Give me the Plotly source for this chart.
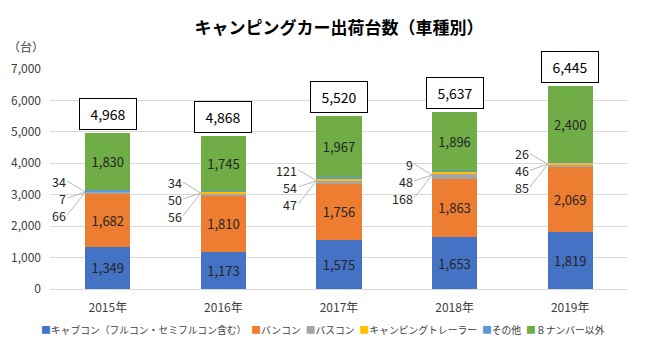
import plotly.graph_objects as go

# ---- data ----
years = ["2015年", "2016年", "2017年", "2018年", "2019年"]
cabcon = [1349, 1173, 1575, 1653, 1819]
vancon = [1682, 1810, 1756, 1863, 2069]
buscon = [66, 56, 121, 168, 85]
trailer = [7, 50, 54, 48, 46]
other = [34, 34, 47, 9, 26]
non8 = [1830, 1745, 1967, 1896, 2400]
series_names = ["キャブコン（フルコン・セミフルコン含む）", "バンコン", "バスコン",
                "キャンピングトレーラー", "その他", "８ナンバー以外"]
# order (top, middle, bottom) of the small-value labels as shown in the picture
small_label_order = [
    ["other", "trailer", "buscon"],
    ["other", "trailer", "buscon"],
    ["buscon", "trailer", "other"],
    ["other", "trailer", "buscon"],
    ["other", "trailer", "buscon"],
]

# ---- style ----
colors = ["#4472C4", "#ED7D31", "#A5A5A5", "#FFC000", "#5B9BD5", "#70AD47"]
FONT = "Noto Sans CJK JP"
W, H = 648, 349
ML, MR, MT, MB = 50, 20, 69, 60
YMAX = 7000
BAR_FRAC = 0.39

series_vals = [cabcon, vancon, buscon, trailer, other, non8]
labelled = [True, True, False, False, False, True]

fig = go.Figure()
for name, vals, col, lab in zip(series_names, series_vals, colors, labelled):
    fig.add_trace(go.Bar(
        x=years, y=vals, name=name,
        marker=dict(color=col, line=dict(width=0)),
        text=[f"{v:,}" for v in vals] if lab else None,
        textposition="inside" if lab else "none",
        insidetextanchor="middle",
        textangle=0,
        textfont=dict(family=FONT, size=13, color="#262626"),
        hoverinfo="skip",
        showlegend=False,
    ))

totals = [sum(s[i] for s in series_vals) for i in range(len(years))]
plot_w = W - ML - MR
plot_h = H - MT - MB
bar_px = BAR_FRAC * plot_w / len(years)

annotations = []
# total boxes
for yr, t in zip(years, totals):
    annotations.append(dict(
        x=yr, y=t, xref="x", yref="y", text=f"{t:,}", showarrow=False,
        yanchor="bottom", yshift=3,
        font=dict(family=FONT, size=14, color="#000000"),
        bordercolor="#000000", borderwidth=1, borderpad=4, bgcolor="#FFFFFF",
        width=48, height=22,
    ))

# small labels with leader lines
small_map = {"buscon": buscon, "trailer": trailer, "other": other}
offsets = [-11, 6, 23]
for i, yr in enumerate(years):
    base = cabcon[i] + vancon[i]
    group = buscon[i] + trailer[i] + other[i]
    center = base + group / 2
    for key, off in zip(small_label_order[i], offsets):
        v = small_map[key][i]
        annotations.append(dict(
            x=yr, y=center, xref="x", yref="y", xshift=-bar_px / 2,
            text=str(v), showarrow=True, arrowhead=0, arrowwidth=0.8,
            arrowcolor="#A6A6A6", ax=-18, ay=off, axref="pixel", ayref="pixel",
            xanchor="right", yanchor="middle",
            font=dict(family=FONT, size=12.5, color="#262626"),
            standoff=0, startstandoff=0, borderpad=0, height=14,
        ))

# unit label
annotations.append(dict(
    xref="paper", yref="paper", x=(26 - ML) / plot_w, y=1 + (MT - 47) / plot_h,
    text="（台）", showarrow=False, xanchor="center", yanchor="middle",
    font=dict(family=FONT, size=12, color="#404040"),
))

# legend (single row, Excel-like compact)
legend_text = "\u2002".join(
    f'<span style="color:{c}">■</span>{n}' for n, c in zip(series_names, colors)
)
annotations.append(dict(
    xref="paper", yref="paper", x=(323 - ML) / plot_w, y=-(330 - MT - plot_h) / plot_h,
    text=legend_text, showarrow=False, xanchor="center", yanchor="middle",
    font=dict(family=FONT, size=9.8, color="#404040"),
))

fig.update_layout(
    width=W, height=H,
    margin=dict(l=ML, r=MR, t=MT, b=MB, autoexpand=False),
    paper_bgcolor="white", plot_bgcolor="white",
    barmode="stack", bargap=1 - BAR_FRAC,
    title=dict(text="<b>キャンピングカー出荷台数（車種別）</b>", x=0.5, xanchor="center",
               y=1 - 28 / H, yanchor="middle", xref="paper",
               font=dict(family=FONT, size=17, color="#000000")),
    font=dict(family=FONT, size=12, color="#595959"),
    xaxis=dict(type="category", showgrid=False, showline=False, ticks="",
               ticklabelstandoff=10,
               tickfont=dict(family=FONT, size=12, color="#404040")),
    yaxis=dict(range=[0, YMAX], dtick=1000, tickformat=",d", showgrid=True,
               gridcolor="#D9D9D9", gridwidth=1, zeroline=True, zerolinecolor="#D9D9D9",
               zerolinewidth=1, showline=False, ticks="", ticklabelstandoff=8,
               tickfont=dict(family=FONT, size=12, color="#404040")),
    annotations=annotations,
    showlegend=False,
)

fig.write_html("out.html")
